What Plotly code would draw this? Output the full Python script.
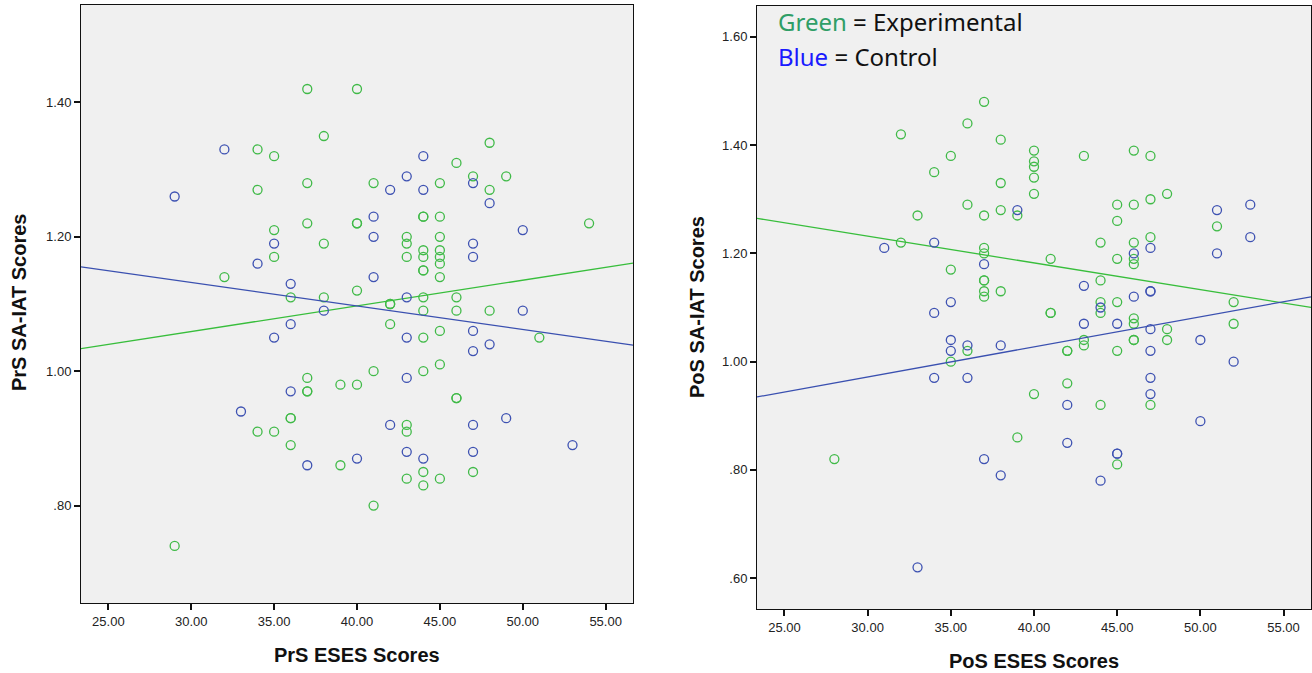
import numpy as np
import plotly.graph_objects as go

# ---------------- data ----------------
# Left panel: PrS ESES (x) vs PrS SA-IAT (y)
pre_exp_x = [37, 40, 38, 34, 35, 37, 34, 35, 37, 40, 40, 38, 35, 32, 36, 38, 40,
             48, 46, 47, 49, 41, 45, 48, 44, 44, 45, 54, 43, 43, 45, 44, 45, 43, 44, 45, 45, 44, 44, 45,
             44, 46, 42, 42, 44, 46, 48, 42,
             37, 37, 37, 39, 40, 36, 36, 34, 35, 36, 39, 29,
             45, 44, 51, 41, 44, 45, 46, 46, 43, 43, 44, 47, 43, 45, 44, 41]
pre_exp_y = [1.42, 1.42, 1.35, 1.33, 1.32, 1.28, 1.27, 1.21, 1.22, 1.22, 1.22, 1.19, 1.17, 1.14, 1.11, 1.11, 1.12,
             1.34, 1.31, 1.29, 1.29, 1.28, 1.28, 1.27, 1.23, 1.23, 1.23, 1.22, 1.20, 1.19, 1.20, 1.18, 1.18, 1.17, 1.17, 1.17, 1.16, 1.15, 1.15, 1.14,
             1.11, 1.11, 1.10, 1.10, 1.09, 1.09, 1.09, 1.07,
             0.99, 0.97, 0.97, 0.98, 0.98, 0.93, 0.93, 0.91, 0.91, 0.89, 0.86, 0.74,
             1.06, 1.05, 1.05, 1.00, 1.00, 1.01, 0.96, 0.96, 0.92, 0.91, 0.85, 0.85, 0.84, 0.84, 0.83, 0.80]

pre_ctl_x = [32, 29, 35, 34, 36, 38, 36,
             44, 43, 47, 42, 44, 48, 41, 50, 41, 47, 47, 41, 43, 50, 47,
             35, 36, 33, 37, 40,
             43, 48, 47, 43, 42, 47, 49, 53, 43, 44, 47]
pre_ctl_y = [1.33, 1.26, 1.19, 1.16, 1.13, 1.09, 1.07,
             1.32, 1.29, 1.28, 1.27, 1.27, 1.25, 1.23, 1.21, 1.20, 1.19, 1.17, 1.14, 1.11, 1.09, 1.06,
             1.05, 0.97, 0.94, 0.86, 0.87,
             1.05, 1.04, 1.03, 0.99, 0.92, 0.92, 0.93, 0.89, 0.88, 0.87, 0.88]

# Right panel: PoS ESES (x) vs PoS SA-IAT (y)
post_exp_x = [37, 36, 32, 38, 40, 35, 40, 40, 34, 40, 38, 40, 36, 33, 37, 38, 39, 32, 37, 37, 35, 37, 37, 37, 37, 38, 36, 35,
              43, 46, 47, 48, 45, 46, 47, 45, 51, 44, 46, 47, 46, 46, 45, 41, 44, 45, 44, 44, 41, 41, 52, 46, 46, 52, 48,
              43, 43, 46, 46, 48, 42, 42, 45, 42,
              40, 44, 47, 39, 45, 28]
post_exp_y = [1.48, 1.44, 1.42, 1.41, 1.39, 1.38, 1.37, 1.36, 1.35, 1.34, 1.33, 1.31, 1.29, 1.27, 1.27, 1.28, 1.27, 1.22, 1.21, 1.20, 1.17, 1.15, 1.15, 1.13, 1.12, 1.13, 1.02, 1.00,
              1.38, 1.39, 1.38, 1.31, 1.29, 1.29, 1.30, 1.26, 1.25, 1.22, 1.22, 1.23, 1.19, 1.18, 1.19, 1.19, 1.15, 1.11, 1.11, 1.09, 1.09, 1.09, 1.11, 1.08, 1.07, 1.07, 1.06,
              1.04, 1.03, 1.04, 1.04, 1.04, 1.02, 1.02, 1.02, 0.96,
              0.94, 0.92, 0.92, 0.86, 0.81, 0.82]

post_ctl_x = [39, 31, 34, 37, 35, 34, 35, 36, 38, 35, 34, 36,
              51, 53, 53, 47, 46, 51, 43, 46, 47, 47, 44, 43, 45, 47, 50, 47, 52, 47,
              42, 47, 50, 42, 45, 45, 37, 38, 44, 33]
post_ctl_y = [1.28, 1.21, 1.22, 1.18, 1.11, 1.09, 1.04, 1.03, 1.03, 1.02, 0.97, 0.97,
              1.28, 1.29, 1.23, 1.21, 1.20, 1.20, 1.14, 1.12, 1.13, 1.13, 1.10, 1.07, 1.07, 1.06, 1.04, 1.02, 1.00, 0.97,
              0.92, 0.94, 0.89, 0.85, 0.83, 0.83, 0.82, 0.79, 0.78, 0.62]

x_tick_vals = [25, 30, 35, 40, 45, 50, 55]
x_tick_text = ["25.00", "30.00", "35.00", "40.00", "45.00", "50.00", "55.00"]
left_y_vals = [0.8, 1.0, 1.2, 1.4]
left_y_text = [".80", "1.00", "1.20", "1.40"]
right_y_vals = [0.6, 0.8, 1.0, 1.2, 1.4, 1.6]
right_y_text = [".60", ".80", "1.00", "1.20", "1.40", "1.60"]

x_range = [23.35, 56.65]
left_y_range = [0.655, 1.545]
right_y_range = [0.543, 1.657]

GREEN = "rgb(64,186,72)"
BLUE = "rgb(62,82,178)"
GREEN_LINE = "rgb(56,190,60)"
BLUE_LINE = "rgb(58,80,176)"

fig = go.Figure()


def add_group(xs, ys, mcol, lcol, xa, ya):
    fig.add_trace(go.Scatter(x=xs, y=ys, mode="markers", xaxis=xa, yaxis=ya,
                             marker=dict(symbol="circle-open", size=9, color=mcol,
                                         line=dict(width=1.3, color=mcol)),
                             showlegend=False, hoverinfo="x+y"))
    slope, intercept = np.polyfit(np.array(xs, float), np.array(ys, float), 1)
    lx = np.array(x_range)
    fig.add_trace(go.Scatter(x=lx, y=intercept + slope * lx, mode="lines", xaxis=xa, yaxis=ya,
                             line=dict(color=lcol, width=1.3), showlegend=False, hoverinfo="skip"))


add_group(pre_exp_x, pre_exp_y, GREEN, GREEN_LINE, "x", "y")
add_group(pre_ctl_x, pre_ctl_y, BLUE, BLUE_LINE, "x", "y")
add_group(post_exp_x, post_exp_y, GREEN, GREEN_LINE, "x2", "y2")
add_group(post_ctl_x, post_ctl_y, BLUE, BLUE_LINE, "x2", "y2")

W, H = 1312, 673
tickfont = dict(family="Liberation Sans, Arial, sans-serif", size=13, color="#222")
axis_common = dict(showline=True, mirror=True, linecolor="#111", linewidth=1,
                   ticks="outside", ticklen=6, tickwidth=1.5, tickcolor="#111",
                   showgrid=False, zeroline=False, tickfont=tickfont, fixedrange=True)

fig.update_layout(
    width=W, height=H,
    margin=dict(l=0, r=0, t=0, b=0),
    paper_bgcolor="white",
    plot_bgcolor="#f0f0f0",
    xaxis=dict(domain=[81 / W, 633 / W], range=x_range, tickvals=x_tick_vals, ticktext=x_tick_text,
               anchor="y", **axis_common),
    yaxis=dict(domain=[(H - 603) / H, (H - 5) / H], range=left_y_range, tickvals=left_y_vals,
               ticktext=left_y_text, anchor="x", **axis_common),
    xaxis2=dict(domain=[757 / W, 1311 / W], range=x_range, tickvals=x_tick_vals, ticktext=x_tick_text,
                anchor="y2", **axis_common),
    yaxis2=dict(domain=[(H - 609) / H, (H - 6) / H], range=right_y_range, tickvals=right_y_vals,
                ticktext=right_y_text, anchor="x2", **axis_common),
)

title_font = dict(family="Liberation Sans, Arial, sans-serif", size=20, color="#111")
annos = [
    dict(text="<b>PrS ESES Scores</b>", x=357 / W, y=1 - 655 / H, xanchor="center", yanchor="middle"),
    dict(text="<b>PoS ESES Scores</b>", x=1034 / W, y=1 - 661 / H, xanchor="center", yanchor="middle"),
    dict(text="<b>PrS SA-IAT Scores</b>", x=19 / W, y=1 - 303 / H, xanchor="center", yanchor="middle", textangle=-90),
    dict(text="<b>PoS SA-IAT Scores</b>", x=697 / W, y=1 - 307 / H, xanchor="center", yanchor="middle", textangle=-90),
]
for a in annos:
    fig.add_annotation(xref="paper", yref="paper", showarrow=False, font=title_font, **a)

legend_font = dict(family="Comic Sans MS, Noto Sans, sans-serif", size=24, color="#111")
fig.add_annotation(xref="paper", yref="paper", showarrow=False, font=legend_font,
                   text="<span style='color:#2f9e66'>Green</span> = Experimental",
                   x=776 / W, y=1 - 21 / H, xanchor="left", yanchor="middle")
fig.add_annotation(xref="paper", yref="paper", showarrow=False, font=legend_font,
                   text="<span style='color:#1a1aff'>Blue</span> = Control",
                   x=776 / W, y=1 - 56 / H, xanchor="left", yanchor="middle")

fig.write_html("out.html")
